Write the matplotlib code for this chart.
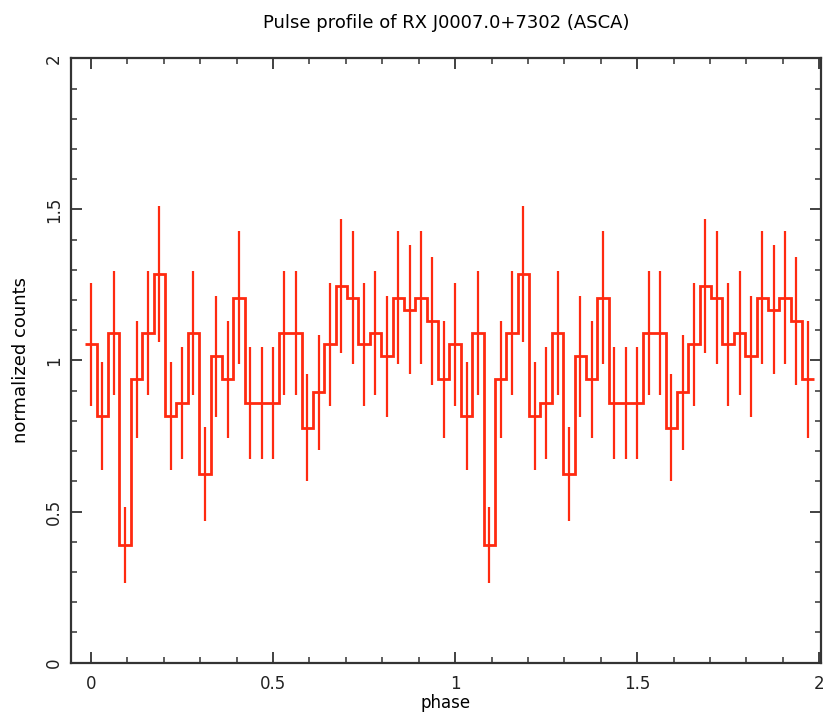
import numpy as np
import matplotlib
matplotlib.use("Agg")
import matplotlib.pyplot as plt
from matplotlib.ticker import MultipleLocator

# pulse profile, 32 phase bins, shown twice (phase 0-2)
counts = [1.053, 0.816, 1.091, 0.388, 0.937, 1.091, 1.286, 0.816,
          0.860, 1.091, 0.623, 1.014, 0.937, 1.207, 0.860, 0.860,
          0.860, 1.091, 1.091, 0.778, 0.895, 1.053, 1.246, 1.207,
          1.053, 1.091, 1.014, 1.207, 1.168, 1.207, 1.130, 0.937]
errors = [0.205, 0.180, 0.206, 0.126, 0.193, 0.206, 0.226, 0.180,
          0.185, 0.206, 0.156, 0.200, 0.193, 0.220, 0.185, 0.185,
          0.185, 0.206, 0.206, 0.176, 0.190, 0.205, 0.222, 0.220,
          0.205, 0.206, 0.200, 0.220, 0.213, 0.220, 0.212, 0.193]
n_cycles = 2

nbin = len(counts)
vals = np.tile(counts, n_cycles)
errs = np.tile(errors, n_cycles)
centers = np.arange(nbin * n_cycles) / nbin
edges = np.arange(nbin * n_cycles + 1) / nbin - 0.5 / nbin

red = '#ff2a10'
axcol = '#333333'

plt.rcParams['font.family'] = ['DejaVu Sans']

fig = plt.figure(figsize=(8.23, 7.14), dpi=100)
ax = fig.add_axes([0.0863, 0.072, 0.9113, 0.8463])

ax.errorbar(centers, vals, yerr=errs, fmt='none', ecolor=red, elinewidth=1.6, capsize=0)
ax.stairs(vals, edges, baseline=None, color=red, linewidth=2.0)

ax.set_xlim(-0.055, 2.005)
ax.set_ylim(0, 2)
ax.xaxis.set_major_locator(MultipleLocator(0.5))
ax.xaxis.set_minor_locator(MultipleLocator(0.1))
ax.yaxis.set_major_locator(MultipleLocator(0.5))
ax.yaxis.set_minor_locator(MultipleLocator(0.1))
ax.xaxis.set_major_formatter(plt.FuncFormatter(lambda v, p: f"{v:g}"))
ax.yaxis.set_major_formatter(plt.FuncFormatter(lambda v, p: f"{v:g}"))

ax.tick_params(which='both', direction='in', top=True, right=True, color=axcol,
               labelsize=12, labelcolor='#222222')
ax.tick_params(which='major', length=8, width=1.3)
ax.tick_params(which='minor', length=4, width=1.1)
ax.tick_params(axis='x', pad=9)
ax.tick_params(axis='y', pad=6)
for lbl in ax.get_yticklabels():
    lbl.set_rotation(90)
    lbl.set_va('center')

for s in ax.spines.values():
    s.set_color(axcol)
    s.set_linewidth(1.6)

ax.set_xlabel('phase', fontsize=12, labelpad=1)
ax.set_ylabel('normalized counts', fontsize=13)
ax.yaxis.set_label_coords(-0.055, 0.5)
ax.set_title('Pulse profile of RX J0007.0+7302 (ASCA)', fontsize=13, pad=22)

fig.savefig('out.png', dpi=100)
